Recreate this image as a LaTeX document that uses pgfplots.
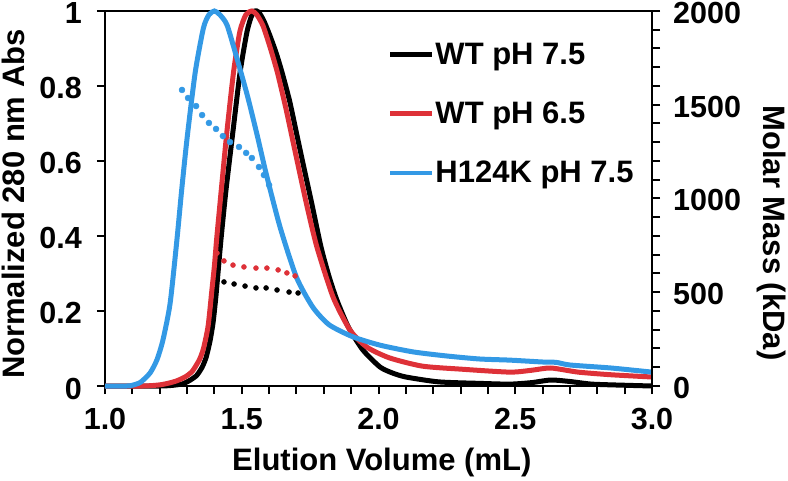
\documentclass[border=0pt]{standalone}
\usepackage{fontspec}
\setmainfont{Liberation Sans}
\usepackage{pgfplots}
\pgfplotsset{compat=1.18}
\definecolor{bl}{RGB}{51,153,229}
\definecolor{rd}{RGB}{222,49,56}
\newcommand{\tf}{\bfseries\fontsize{30.5}{36}\selectfont}
\newcommand{\lf}{\bfseries\fontsize{31}{37}\selectfont}
\begin{document}
\begin{tikzpicture}
\useasboundingbox (0,0) rectangle (788pt,480pt);
\pgfplotsset{common/.style={
  at={(105pt,94pt)}, anchor=south west, scale only axis, width=547pt, height=375pt,
  xmin=1, xmax=3,
  axis line style={line width=2.2pt},
  every tick/.style={black, line width=2pt},
  major tick length=8pt, minor tick length=8pt, tick align=outside,
  tick label style={font=\tf, inner sep=0pt},
  /pgf/number format/assume math mode=true,
  clip=false}}
\begin{axis}[common,
  ymin=0, ymax=1,
  tick pos=left,
  xtick={1,1.5,2,2.5,3}, minor x tick num=4,
  xticklabel style={/pgf/number format/fixed, /pgf/number format/fixed zerofill, /pgf/number format/precision=1, yshift=-14pt},
  ytick={0,0.2,0.4,0.6,0.8,1},
  yticklabel style={xshift=-15pt, yshift=-2.5pt},
  xlabel={Elution Volume (mL)},
  xlabel style={font=\lf, at={(axis description cs:0.506,-0.224)}, anchor=base},
  ylabel={Normalized 280 nm Abs},
  ylabel style={font=\lf, at={(axis description cs:-0.168,0.485)}, anchor=center},
  legend style={draw=none, fill=none, at={(axis description cs:0.517,0.917)}, anchor=north west,
    font=\lf, inner sep=0pt, row sep=34pt, nodes={inner sep=1pt}},
  legend cell align=left,
  legend image code/.code={\draw[#1, line width=4.5pt] (0pt,0pt) -- (42pt,0pt);},
]
\addplot[black, line width=5pt, smooth, tension=0.4] coordinates {
(1.0,0) (1.2,0) (1.25,0.002) (1.285,0.006) (1.31,0.015) (1.335,0.028) (1.355,0.05) (1.37,0.077) (1.384,0.12) (1.395,0.168) (1.405,0.235) (1.413,0.30) (1.424,0.39) (1.442,0.52) (1.468,0.68) (1.494,0.837) (1.519,0.944) (1.535,0.985) (1.548,1.0) (1.562,0.997) (1.58,0.975) (1.60,0.94) (1.625,0.89) (1.647,0.837) (1.675,0.76) (1.70,0.675) (1.725,0.59) (1.755,0.49) (1.79,0.37) (1.82,0.29) (1.848,0.229) (1.89,0.157) (1.943,0.096) (2.005,0.051) (2.05,0.035) (2.10,0.024) (2.22,0.011) (2.37,0.007) (2.48,0.005) (2.56,0.009) (2.63,0.016) (2.70,0.012) (2.78,0.005) (2.9,0.002) (3.0,0.0)
};
\addlegendentry{WT pH 7.5}
\addplot[rd, line width=5pt, smooth, tension=0.4] coordinates {
(1.0,0) (1.14,0) (1.2,0.003) (1.235,0.008) (1.263,0.014) (1.295,0.025) (1.32,0.04) (1.345,0.07) (1.36,0.10) (1.377,0.16) (1.39,0.25) (1.40,0.32) (1.408,0.39) (1.417,0.46) (1.43,0.56) (1.446,0.68) (1.47,0.837) (1.493,0.945) (1.515,0.99) (1.537,1.0) (1.555,0.99) (1.578,0.96) (1.605,0.9) (1.63,0.837) (1.66,0.745) (1.685,0.66) (1.71,0.575) (1.74,0.475) (1.775,0.37) (1.834,0.237) (1.896,0.149) (1.957,0.104) (2.04,0.075) (2.16,0.053) (2.30,0.045) (2.48,0.037) (2.56,0.042) (2.63,0.048) (2.73,0.037) (2.85,0.03) (3.0,0.024)
};
\addlegendentry{WT pH 6.5}
\addplot[bl, line width=5pt, smooth, tension=0.4] coordinates {
(1.0,0) (1.08,0) (1.10,0.002) (1.13,0.01) (1.165,0.035) (1.19,0.07) (1.212,0.123) (1.238,0.22) (1.263,0.39) (1.28,0.52) (1.30,0.66) (1.33,0.837) (1.36,0.955) (1.38,0.99) (1.40,1.0) (1.42,0.99) (1.446,0.963) (1.48,0.88) (1.52,0.776) (1.556,0.67) (1.59,0.564) (1.64,0.424) (1.70,0.29) (1.76,0.21) (1.82,0.163) (1.907,0.131) (2.005,0.109) (2.126,0.091) (2.25,0.080) (2.37,0.072) (2.48,0.069) (2.60,0.064) (2.65,0.063) (2.70,0.056) (2.85,0.048) (3.0,0.037)
};
\addlegendentry{H124K pH 7.5}
\end{axis}
\begin{axis}[common,
  ymin=0, ymax=2000,
  axis y line*=right, axis x line=none,
  ytick={0,500,1000,1500,2000}, minor y tick num=4,
  yticklabel style={/pgf/number format/1000 sep={}, xshift=13pt, yshift=-2pt},
  ylabel={Molar Mass (kDa)},
  ylabel style={font=\lf, rotate=180, at={(axis description cs:1.219,0.408)}, anchor=center},
]
\addplot[only marks, mark=*, mark size=2.5pt, black] coordinates {
(1.435,555) (1.472,544) (1.512,533) (1.552,523) (1.589,523) (1.629,512) (1.673,501) (1.706,496)
};
\addplot[only marks, mark=*, mark size=2.5pt, rd] coordinates {
(1.4095,709) (1.435,667) (1.468,645) (1.508,635) (1.552,629) (1.592,629) (1.633,619) (1.665,603) (1.695,587)
};
\addplot[only marks, mark=*, mark size=3pt, bl] coordinates {
(1.2815,1579) (1.3035,1536) (1.333,1493) (1.355,1445) (1.380,1403) (1.406,1371) (1.431,1333) (1.457,1301) (1.490,1275) (1.516,1243) (1.537,1216) (1.563,1168) (1.581,1125) (1.600,1072)
};
\end{axis}
\end{tikzpicture}
\end{document}
